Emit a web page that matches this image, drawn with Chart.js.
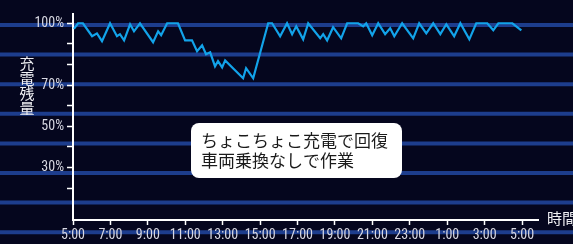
<!DOCTYPE html>
<html>
<head>
<meta charset="utf-8">
<script src="https://cdn.jsdelivr.net/npm/chart.js@4"></script>
<style>
  html, body { margin: 0; padding: 0; background: #05061e; }
  #wrap { width: 573px; height: 244px; }
</style>
</head>
<body>
<div id="wrap"><canvas id="chart" width="573" height="244"></canvas></div>
<script>
// hours since 5:00, battery level in %
const hours = [0.05, 0.27, 0.53, 1.02, 1.28, 1.55, 1.98, 2.35, 2.51, 2.73, 3.05, 3.26, 3.58, 4.28, 4.55, 4.71,
  5.03, 5.61, 5.99, 6.36, 6.63, 6.9, 7.11, 7.33, 7.59, 7.75, 7.97, 8.13, 9.09, 9.25, 9.63, 10.43, 10.64,
  11.07, 11.44, 11.71, 11.93, 12.3, 12.57, 13.21, 13.37, 13.58, 13.9, 14.33, 14.65, 15.24, 15.51, 15.67,
  15.99, 16.31, 16.68, 16.95, 17.17, 17.59, 18.18, 18.5, 18.88, 19.25, 19.63, 19.95, 20.37, 20.7, 21.18,
  21.55, 22.14, 22.46, 22.73, 23.48, 23.96];
const charge = [97.3, 100, 100, 93.7, 95.1, 91.3, 100, 93.7, 94.7, 91.7, 99.5, 96.1, 100, 90.8, 96.1, 94.2,
  100, 100, 91.7, 91.7, 86.4, 89.3, 85, 85.9, 79.1, 81.6, 78.6, 82, 73.3, 78.2, 73.3, 100, 100,
  93.7, 100, 94.7, 98.5, 92.2, 100, 92.7, 94.7, 91.7, 98.1, 92.7, 100, 100, 98.5, 100,
  94.2, 100, 94.7, 97.6, 93.7, 100, 92.7, 100, 95.1, 100, 94.7, 99.5, 93.7, 100, 92.2,
  100, 100, 96.6, 100, 100, 96.6];
const xTicks = [0, 2, 4, 6, 8, 10, 12, 14, 16, 18, 20, 22, 24];
const startHour = 5;
const yTicks = [20, 30, 40, 50, 60, 70, 80, 90, 100];
const yLabelled = [100, 70, 50, 30];
const yTitle = '充電残量';
const xTitle = '時間';
const note = ['ちょこちょこ充電で回復', '車両乗換なしで作業'];

// condensed Roboto is the closest thing to the narrow tick font
const tickFont = { family: 'Roboto, sans-serif', size: 14, weight: 'condensed' };
const cjkFont = "'Noto Sans CJK JP', sans-serif";

const decor = {
  id: 'decor',
  beforeDraw(chart) {
    const ctx = chart.ctx;
    ctx.save();
    ctx.fillStyle = '#05061e';
    ctx.fillRect(0, 0, chart.width, chart.height);
    // background stripes
    ctx.strokeStyle = '#1d3d8d';
    ctx.lineWidth = 4;
    for (let i = 0; i < 8; i++) {
      const y = 25 + i * 29.6;
      ctx.beginPath();
      ctx.moveTo(0, y);
      ctx.lineTo(chart.width, y);
      ctx.stroke();
    }
    ctx.restore();
  },
  afterDraw(chart) {
    const ctx = chart.ctx;
    ctx.save();
    // vertical y title
    ctx.fillStyle = '#f0f0f4';
    ctx.font = '15px ' + cjkFont;
    ctx.textAlign = 'center';
    ctx.textBaseline = 'middle';
    [...yTitle].forEach((ch, i) => ctx.fillText(ch, 27, 63 + i * 15));
    // x title
    ctx.textAlign = 'left';
    ctx.fillText(xTitle, 547, 218);
    // note box
    ctx.fillStyle = '#ffffff';
    ctx.beginPath();
    ctx.roundRect(191, 123, 211, 55, 8);
    ctx.fill();
    ctx.fillStyle = '#1a1a1a';
    ctx.font = '17px ' + cjkFont;
    note.forEach((line, i) => ctx.fillText(line, 201, 141 + i * 20));
    ctx.restore();
  }
};

new Chart(document.getElementById('chart'), {
  type: 'line',
  data: {
    datasets: [{
      data: hours.map((h, i) => ({ x: h, y: charge[i] })),
      borderColor: '#12a3ea',
      borderWidth: 2.2,
      pointRadius: 0,
      tension: 0,
      fill: false
    }]
  },
  options: {
    responsive: false,
    animation: false,
    layout: { padding: { top: 14, right: 35, left: 0, bottom: 0 } },
    plugins: { legend: { display: false }, tooltip: { enabled: false } },
    scales: {
      x: {
        type: 'linear',
        min: 0,
        max: 24.85,
        afterBuildTicks: s => { s.ticks = xTicks.map(v => ({ value: v })); },
        afterFit: s => { s.height = 24; },
        grid: { drawOnChartArea: false, color: '#ffffff', tickLength: 5, tickWidth: 1.5 },
        border: { color: '#ffffff', width: 2 },
        ticks: {
          color: '#d8d8e2',
          font: tickFont,
          padding: 2,
          maxRotation: 0,
          autoSkip: false,
          callback: v => ((startHour + v) % 24) + ':00'
        }
      },
      y: {
        min: 4.5,
        max: 104.5,
        afterBuildTicks: s => { s.ticks = yTicks.map(v => ({ value: v })); },
        afterFit: s => { s.width = 73; },
        grid: { drawOnChartArea: false, color: '#ffffff', tickLength: 6, tickWidth: 1.5 },
        border: { color: '#ffffff', width: 2 },
        ticks: {
          color: '#d8d8e2',
          font: tickFont,
          padding: 3,
          callback: v => yLabelled.includes(v) ? v + '%' : ''
        }
      }
    }
  },
  plugins: [decor]
});
</script>
</body>
</html>
